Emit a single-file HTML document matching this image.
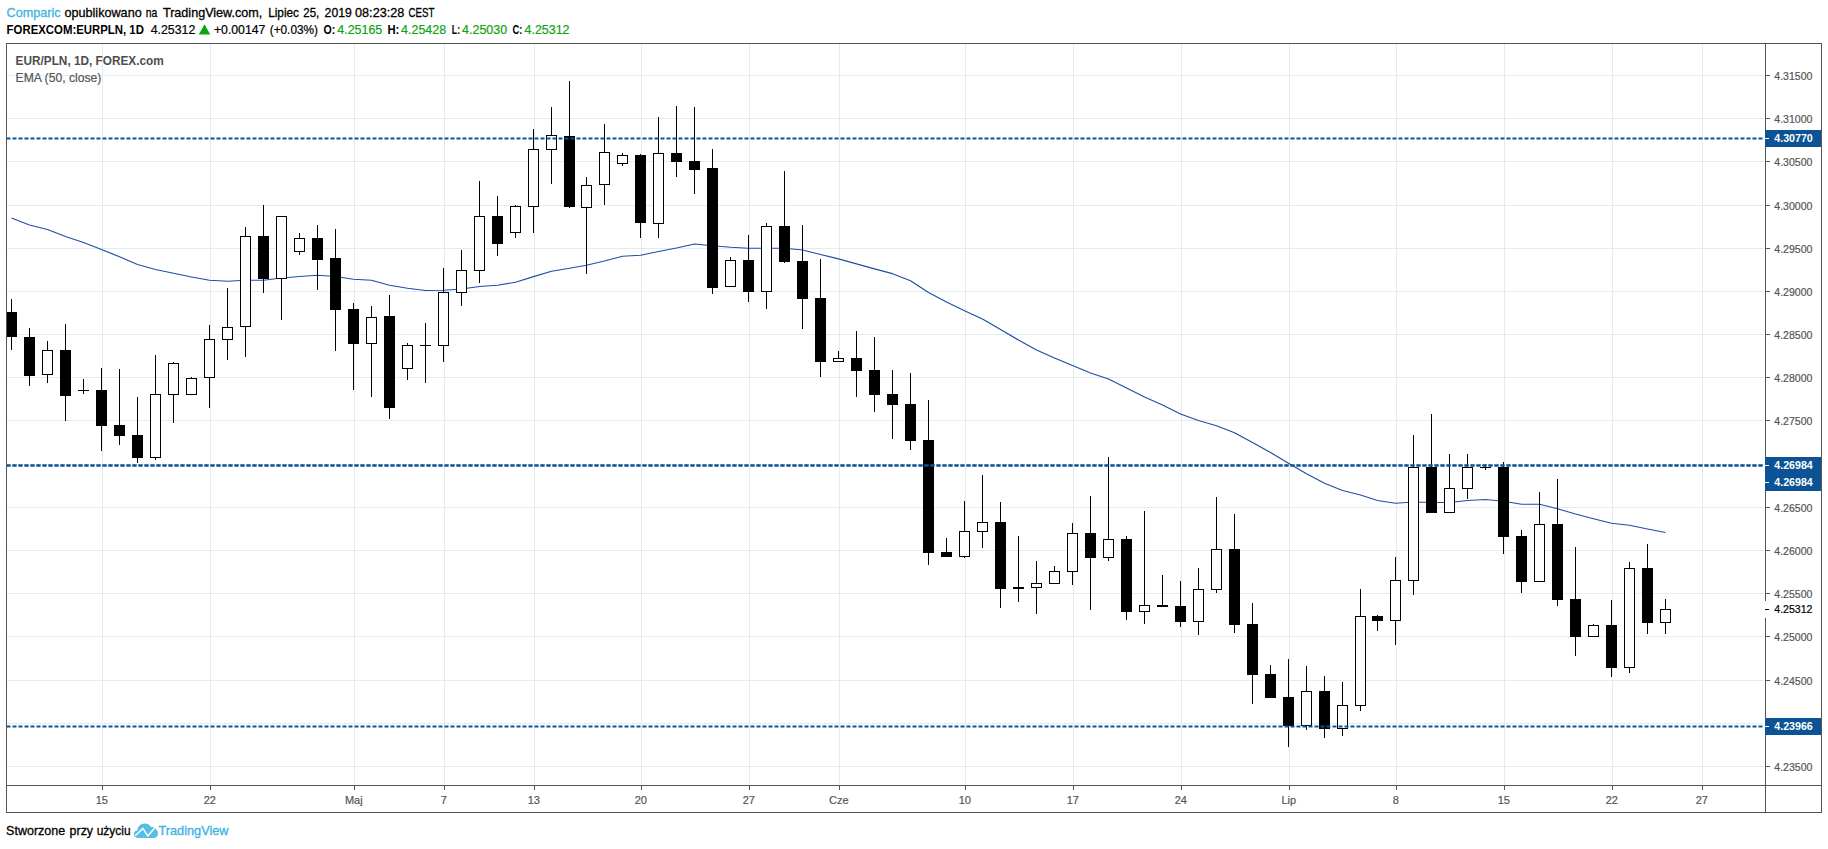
<!DOCTYPE html>
<html lang="pl"><head><meta charset="utf-8"><title>EUR/PLN, 1D, FOREX.com</title>
<style>html,body{margin:0;padding:0;background:#fff;width:1828px;height:849px;overflow:hidden}
svg text{white-space:pre}</style></head>
<body>
<svg width="1828" height="849" viewBox="0 0 1828 849" style="position:absolute;left:0;top:0">
<rect x="0" y="0" width="1828" height="849" fill="#ffffff"/>
<g shape-rendering="crispEdges" fill="#e1ecf2">
<rect x="7" y="75" width="1757" height="1"/>
<rect x="7" y="118" width="1757" height="1"/>
<rect x="7" y="161" width="1757" height="1"/>
<rect x="7" y="205" width="1757" height="1"/>
<rect x="7" y="248" width="1757" height="1"/>
<rect x="7" y="291" width="1757" height="1"/>
<rect x="7" y="334" width="1757" height="1"/>
<rect x="7" y="377" width="1757" height="1"/>
<rect x="7" y="420" width="1757" height="1"/>
<rect x="7" y="464" width="1757" height="1"/>
<rect x="7" y="507" width="1757" height="1"/>
<rect x="7" y="550" width="1757" height="1"/>
<rect x="7" y="593" width="1757" height="1"/>
<rect x="7" y="636" width="1757" height="1"/>
<rect x="7" y="680" width="1757" height="1"/>
<rect x="7" y="723" width="1757" height="1"/>
<rect x="7" y="766" width="1757" height="1"/>
<rect x="102" y="44" width="1" height="741"/>
<rect x="210" y="44" width="1" height="741"/>
<rect x="354" y="44" width="1" height="741"/>
<rect x="444" y="44" width="1" height="741"/>
<rect x="534" y="44" width="1" height="741"/>
<rect x="641" y="44" width="1" height="741"/>
<rect x="749" y="44" width="1" height="741"/>
<rect x="839" y="44" width="1" height="741"/>
<rect x="965" y="44" width="1" height="741"/>
<rect x="1073" y="44" width="1" height="741"/>
<rect x="1181" y="44" width="1" height="741"/>
<rect x="1289" y="44" width="1" height="741"/>
<rect x="1396" y="44" width="1" height="741"/>
<rect x="1504" y="44" width="1" height="741"/>
<rect x="1612" y="44" width="1" height="741"/>
<rect x="1702" y="44" width="1" height="741"/>
</g>
<polyline points="11.5,218.00 29.5,225.00 47.5,229.50 65.5,236.50 83.5,242.50 101.5,249.50 119.5,256.75 137.5,264.50 155.5,269.50 173.5,273.25 191.5,277.00 209.5,280.25 227.5,281.25 245.5,280.25 263.5,280.25 281.5,278.00 299.5,276.50 317.5,275.25 335.5,276.50 353.5,279.25 371.5,280.25 389.5,285.25 407.5,288.25 425.5,290.50 443.5,290.25 461.5,289.00 479.5,286.50 497.5,285.25 515.5,282.25 533.5,276.60 551.5,271.25 569.5,268.25 586.5,265.25 604.5,261.00 622.5,256.25 640.5,255.25 658.5,251.50 676.5,248.00 694.5,244.00 712.5,245.75 730.5,247.25 748.5,248.25 766.5,248.25 784.5,248.25 802.5,250.00 820.5,254.50 838.5,258.90 856.5,263.90 874.5,268.80 892.5,273.70 910.5,280.80 928.5,292.50 946.5,302.00 964.5,310.80 982.5,319.00 1000.5,329.50 1018.5,340.00 1036.5,350.00 1054.5,358.00 1072.5,365.50 1090.5,373.00 1108.5,379.00 1126.5,388.00 1144.5,397.00 1162.5,405.00 1180.5,414.00 1198.5,420.50 1216.5,425.75 1234.5,432.75 1252.5,442.50 1270.5,452.50 1288.5,463.25 1306.5,473.75 1324.5,483.25 1342.5,490.50 1360.5,495.00 1377.5,500.50 1395.5,503.25 1413.5,502.00 1431.5,502.50 1449.5,502.50 1467.5,500.50 1485.5,499.50 1503.5,501.25 1521.5,504.25 1539.5,504.25 1557.5,508.75 1575.5,514.00 1593.5,518.75 1611.5,523.25 1629.5,525.25 1647.5,529.00 1665.5,532.50" fill="none" stroke="#1f4fa3" stroke-width="1.2" stroke-linejoin="round"/>
<g shape-rendering="crispEdges">
<rect x="11" y="299" width="1" height="51" fill="#000"/>
<rect x="7" y="312" width="10" height="25" fill="#000"/>
<rect x="29" y="328" width="1" height="58" fill="#000"/>
<rect x="24" y="337" width="11" height="39" fill="#000"/>
<rect x="47" y="341" width="1" height="42" fill="#000"/>
<rect x="42" y="350" width="11" height="25" fill="#000"/>
<rect x="43" y="351" width="9" height="23" fill="#fff"/>
<rect x="65" y="324" width="1" height="97" fill="#000"/>
<rect x="60" y="350" width="11" height="46" fill="#000"/>
<rect x="83" y="379" width="1" height="15" fill="#000"/>
<rect x="78" y="390" width="11" height="1" fill="#000"/>
<rect x="101" y="368" width="1" height="83" fill="#000"/>
<rect x="96" y="390" width="11" height="36" fill="#000"/>
<rect x="119" y="369" width="1" height="76" fill="#000"/>
<rect x="114" y="425" width="11" height="11" fill="#000"/>
<rect x="137" y="397" width="1" height="66" fill="#000"/>
<rect x="132" y="435" width="11" height="23" fill="#000"/>
<rect x="155" y="355" width="1" height="105" fill="#000"/>
<rect x="150" y="394" width="11" height="64" fill="#000"/>
<rect x="151" y="395" width="9" height="62" fill="#fff"/>
<rect x="173" y="362" width="1" height="61" fill="#000"/>
<rect x="168" y="363" width="11" height="32" fill="#000"/>
<rect x="169" y="364" width="9" height="30" fill="#fff"/>
<rect x="191" y="377" width="1" height="18" fill="#000"/>
<rect x="186" y="378" width="11" height="17" fill="#000"/>
<rect x="187" y="379" width="9" height="15" fill="#fff"/>
<rect x="209" y="325" width="1" height="83" fill="#000"/>
<rect x="204" y="339" width="11" height="39" fill="#000"/>
<rect x="205" y="340" width="9" height="37" fill="#fff"/>
<rect x="227" y="288" width="1" height="72" fill="#000"/>
<rect x="222" y="327" width="11" height="13" fill="#000"/>
<rect x="223" y="328" width="9" height="11" fill="#fff"/>
<rect x="245" y="227" width="1" height="130" fill="#000"/>
<rect x="240" y="236" width="11" height="91" fill="#000"/>
<rect x="241" y="237" width="9" height="89" fill="#fff"/>
<rect x="263" y="205" width="1" height="88" fill="#000"/>
<rect x="258" y="236" width="11" height="43" fill="#000"/>
<rect x="281" y="216" width="1" height="104" fill="#000"/>
<rect x="276" y="216" width="11" height="63" fill="#000"/>
<rect x="277" y="217" width="9" height="61" fill="#fff"/>
<rect x="299" y="233" width="1" height="22" fill="#000"/>
<rect x="294" y="238" width="11" height="14" fill="#000"/>
<rect x="295" y="239" width="9" height="12" fill="#fff"/>
<rect x="317" y="225" width="1" height="65" fill="#000"/>
<rect x="312" y="238" width="11" height="22" fill="#000"/>
<rect x="335" y="229" width="1" height="122" fill="#000"/>
<rect x="330" y="258" width="11" height="52" fill="#000"/>
<rect x="353" y="303" width="1" height="87" fill="#000"/>
<rect x="348" y="309" width="11" height="35" fill="#000"/>
<rect x="371" y="306" width="1" height="91" fill="#000"/>
<rect x="366" y="317" width="11" height="27" fill="#000"/>
<rect x="367" y="318" width="9" height="25" fill="#fff"/>
<rect x="389" y="295" width="1" height="124" fill="#000"/>
<rect x="384" y="316" width="11" height="92" fill="#000"/>
<rect x="407" y="343" width="1" height="37" fill="#000"/>
<rect x="402" y="345" width="11" height="24" fill="#000"/>
<rect x="403" y="346" width="9" height="22" fill="#fff"/>
<rect x="425" y="323" width="1" height="60" fill="#000"/>
<rect x="420" y="345" width="11" height="1" fill="#000"/>
<rect x="443" y="268" width="1" height="94" fill="#000"/>
<rect x="438" y="292" width="11" height="54" fill="#000"/>
<rect x="439" y="293" width="9" height="52" fill="#fff"/>
<rect x="461" y="250" width="1" height="56" fill="#000"/>
<rect x="456" y="270" width="11" height="23" fill="#000"/>
<rect x="457" y="271" width="9" height="21" fill="#fff"/>
<rect x="479" y="181" width="1" height="102" fill="#000"/>
<rect x="474" y="216" width="11" height="55" fill="#000"/>
<rect x="475" y="217" width="9" height="53" fill="#fff"/>
<rect x="497" y="196" width="1" height="60" fill="#000"/>
<rect x="492" y="216" width="11" height="28" fill="#000"/>
<rect x="515" y="205" width="1" height="33" fill="#000"/>
<rect x="510" y="206" width="11" height="27" fill="#000"/>
<rect x="511" y="207" width="9" height="25" fill="#fff"/>
<rect x="533" y="129" width="1" height="104" fill="#000"/>
<rect x="528" y="149" width="11" height="58" fill="#000"/>
<rect x="529" y="150" width="9" height="56" fill="#fff"/>
<rect x="551" y="107" width="1" height="77" fill="#000"/>
<rect x="546" y="135" width="11" height="15" fill="#000"/>
<rect x="547" y="136" width="9" height="13" fill="#fff"/>
<rect x="569" y="81" width="1" height="127" fill="#000"/>
<rect x="564" y="136" width="11" height="71" fill="#000"/>
<rect x="586" y="177" width="1" height="97" fill="#000"/>
<rect x="581" y="185" width="11" height="23" fill="#000"/>
<rect x="582" y="186" width="9" height="21" fill="#fff"/>
<rect x="604" y="124" width="1" height="81" fill="#000"/>
<rect x="599" y="152" width="11" height="33" fill="#000"/>
<rect x="600" y="153" width="9" height="31" fill="#fff"/>
<rect x="622" y="153" width="1" height="13" fill="#000"/>
<rect x="617" y="155" width="11" height="9" fill="#000"/>
<rect x="618" y="156" width="9" height="7" fill="#fff"/>
<rect x="640" y="154" width="1" height="84" fill="#000"/>
<rect x="635" y="155" width="11" height="68" fill="#000"/>
<rect x="658" y="117" width="1" height="121" fill="#000"/>
<rect x="653" y="153" width="11" height="71" fill="#000"/>
<rect x="654" y="154" width="9" height="69" fill="#fff"/>
<rect x="676" y="106" width="1" height="71" fill="#000"/>
<rect x="671" y="153" width="11" height="9" fill="#000"/>
<rect x="694" y="107" width="1" height="87" fill="#000"/>
<rect x="689" y="161" width="11" height="9" fill="#000"/>
<rect x="712" y="149" width="1" height="145" fill="#000"/>
<rect x="707" y="168" width="11" height="120" fill="#000"/>
<rect x="730" y="257" width="1" height="30" fill="#000"/>
<rect x="725" y="260" width="11" height="27" fill="#000"/>
<rect x="726" y="261" width="9" height="25" fill="#fff"/>
<rect x="748" y="235" width="1" height="67" fill="#000"/>
<rect x="743" y="260" width="11" height="32" fill="#000"/>
<rect x="766" y="223" width="1" height="86" fill="#000"/>
<rect x="761" y="226" width="11" height="66" fill="#000"/>
<rect x="762" y="227" width="9" height="64" fill="#fff"/>
<rect x="784" y="171" width="1" height="92" fill="#000"/>
<rect x="779" y="226" width="11" height="36" fill="#000"/>
<rect x="802" y="225" width="1" height="104" fill="#000"/>
<rect x="797" y="261" width="11" height="38" fill="#000"/>
<rect x="820" y="259" width="1" height="118" fill="#000"/>
<rect x="815" y="298" width="11" height="64" fill="#000"/>
<rect x="838" y="351" width="1" height="11" fill="#000"/>
<rect x="833" y="358" width="11" height="4" fill="#000"/>
<rect x="834" y="359" width="9" height="2" fill="#fff"/>
<rect x="856" y="331" width="1" height="66" fill="#000"/>
<rect x="851" y="358" width="11" height="13" fill="#000"/>
<rect x="874" y="337" width="1" height="75" fill="#000"/>
<rect x="869" y="370" width="11" height="25" fill="#000"/>
<rect x="892" y="370" width="1" height="69" fill="#000"/>
<rect x="887" y="394" width="11" height="11" fill="#000"/>
<rect x="910" y="373" width="1" height="77" fill="#000"/>
<rect x="905" y="404" width="11" height="37" fill="#000"/>
<rect x="928" y="400" width="1" height="165" fill="#000"/>
<rect x="923" y="440" width="11" height="113" fill="#000"/>
<rect x="946" y="538" width="1" height="19" fill="#000"/>
<rect x="941" y="552" width="11" height="5" fill="#000"/>
<rect x="964" y="501" width="1" height="57" fill="#000"/>
<rect x="959" y="531" width="11" height="26" fill="#000"/>
<rect x="960" y="532" width="9" height="24" fill="#fff"/>
<rect x="982" y="475" width="1" height="73" fill="#000"/>
<rect x="977" y="522" width="11" height="10" fill="#000"/>
<rect x="978" y="523" width="9" height="8" fill="#fff"/>
<rect x="1000" y="502" width="1" height="106" fill="#000"/>
<rect x="995" y="522" width="11" height="67" fill="#000"/>
<rect x="1018" y="536" width="1" height="66" fill="#000"/>
<rect x="1013" y="587" width="11" height="2" fill="#000"/>
<rect x="1036" y="561" width="1" height="53" fill="#000"/>
<rect x="1031" y="583" width="11" height="5" fill="#000"/>
<rect x="1032" y="584" width="9" height="3" fill="#fff"/>
<rect x="1054" y="566" width="1" height="18" fill="#000"/>
<rect x="1049" y="571" width="11" height="13" fill="#000"/>
<rect x="1050" y="572" width="9" height="11" fill="#fff"/>
<rect x="1072" y="523" width="1" height="62" fill="#000"/>
<rect x="1067" y="533" width="11" height="39" fill="#000"/>
<rect x="1068" y="534" width="9" height="37" fill="#fff"/>
<rect x="1090" y="496" width="1" height="114" fill="#000"/>
<rect x="1085" y="533" width="11" height="25" fill="#000"/>
<rect x="1108" y="457" width="1" height="104" fill="#000"/>
<rect x="1103" y="539" width="11" height="19" fill="#000"/>
<rect x="1104" y="540" width="9" height="17" fill="#fff"/>
<rect x="1126" y="536" width="1" height="84" fill="#000"/>
<rect x="1121" y="539" width="11" height="73" fill="#000"/>
<rect x="1144" y="511" width="1" height="113" fill="#000"/>
<rect x="1139" y="605" width="11" height="7" fill="#000"/>
<rect x="1140" y="606" width="9" height="5" fill="#fff"/>
<rect x="1162" y="575" width="1" height="32" fill="#000"/>
<rect x="1157" y="605" width="11" height="2" fill="#000"/>
<rect x="1180" y="581" width="1" height="46" fill="#000"/>
<rect x="1175" y="606" width="11" height="16" fill="#000"/>
<rect x="1198" y="568" width="1" height="67" fill="#000"/>
<rect x="1193" y="589" width="11" height="33" fill="#000"/>
<rect x="1194" y="590" width="9" height="31" fill="#fff"/>
<rect x="1216" y="497" width="1" height="96" fill="#000"/>
<rect x="1211" y="549" width="11" height="41" fill="#000"/>
<rect x="1212" y="550" width="9" height="39" fill="#fff"/>
<rect x="1234" y="514" width="1" height="119" fill="#000"/>
<rect x="1229" y="549" width="11" height="76" fill="#000"/>
<rect x="1252" y="603" width="1" height="101" fill="#000"/>
<rect x="1247" y="624" width="11" height="51" fill="#000"/>
<rect x="1270" y="665" width="1" height="33" fill="#000"/>
<rect x="1265" y="674" width="11" height="24" fill="#000"/>
<rect x="1288" y="659" width="1" height="88" fill="#000"/>
<rect x="1283" y="697" width="11" height="29" fill="#000"/>
<rect x="1306" y="666" width="1" height="64" fill="#000"/>
<rect x="1301" y="691" width="11" height="35" fill="#000"/>
<rect x="1302" y="692" width="9" height="33" fill="#fff"/>
<rect x="1324" y="676" width="1" height="62" fill="#000"/>
<rect x="1319" y="691" width="11" height="38" fill="#000"/>
<rect x="1342" y="682" width="1" height="54" fill="#000"/>
<rect x="1337" y="705" width="11" height="24" fill="#000"/>
<rect x="1338" y="706" width="9" height="22" fill="#fff"/>
<rect x="1360" y="589" width="1" height="122" fill="#000"/>
<rect x="1355" y="616" width="11" height="90" fill="#000"/>
<rect x="1356" y="617" width="9" height="88" fill="#fff"/>
<rect x="1377" y="615" width="1" height="16" fill="#000"/>
<rect x="1372" y="616" width="11" height="5" fill="#000"/>
<rect x="1395" y="557" width="1" height="88" fill="#000"/>
<rect x="1390" y="580" width="11" height="41" fill="#000"/>
<rect x="1391" y="581" width="9" height="39" fill="#fff"/>
<rect x="1413" y="435" width="1" height="160" fill="#000"/>
<rect x="1408" y="467" width="11" height="114" fill="#000"/>
<rect x="1409" y="468" width="9" height="112" fill="#fff"/>
<rect x="1431" y="414" width="1" height="99" fill="#000"/>
<rect x="1426" y="467" width="11" height="46" fill="#000"/>
<rect x="1449" y="454" width="1" height="59" fill="#000"/>
<rect x="1444" y="488" width="11" height="25" fill="#000"/>
<rect x="1445" y="489" width="9" height="23" fill="#fff"/>
<rect x="1467" y="454" width="1" height="45" fill="#000"/>
<rect x="1462" y="467" width="11" height="22" fill="#000"/>
<rect x="1463" y="468" width="9" height="20" fill="#fff"/>
<rect x="1485" y="464" width="1" height="6" fill="#000"/>
<rect x="1480" y="467" width="11" height="1" fill="#000"/>
<rect x="1503" y="462" width="1" height="92" fill="#000"/>
<rect x="1498" y="467" width="11" height="70" fill="#000"/>
<rect x="1521" y="530" width="1" height="63" fill="#000"/>
<rect x="1516" y="536" width="11" height="46" fill="#000"/>
<rect x="1539" y="492" width="1" height="90" fill="#000"/>
<rect x="1534" y="524" width="11" height="58" fill="#000"/>
<rect x="1535" y="525" width="9" height="56" fill="#fff"/>
<rect x="1557" y="479" width="1" height="127" fill="#000"/>
<rect x="1552" y="524" width="11" height="76" fill="#000"/>
<rect x="1575" y="547" width="1" height="109" fill="#000"/>
<rect x="1570" y="599" width="11" height="38" fill="#000"/>
<rect x="1593" y="624" width="1" height="13" fill="#000"/>
<rect x="1588" y="625" width="11" height="12" fill="#000"/>
<rect x="1589" y="626" width="9" height="10" fill="#fff"/>
<rect x="1611" y="600" width="1" height="77" fill="#000"/>
<rect x="1606" y="625" width="11" height="43" fill="#000"/>
<rect x="1629" y="562" width="1" height="111" fill="#000"/>
<rect x="1624" y="568" width="11" height="100" fill="#000"/>
<rect x="1625" y="569" width="9" height="98" fill="#fff"/>
<rect x="1647" y="544" width="1" height="90" fill="#000"/>
<rect x="1642" y="568" width="11" height="55" fill="#000"/>
<rect x="1665" y="599" width="1" height="35" fill="#000"/>
<rect x="1660" y="609" width="11" height="14" fill="#000"/>
<rect x="1661" y="610" width="9" height="12" fill="#fff"/>
</g>
<line x1="6.5" y1="138.50" x2="1763" y2="138.50" stroke="#0b5394" stroke-width="2.2" stroke-dasharray="4 2"/>
<line x1="6.5" y1="465.50" x2="1763" y2="465.50" stroke="#0b5394" stroke-width="2.2" stroke-dasharray="4 2"/>
<line x1="6.5" y1="465.50" x2="1763" y2="465.50" stroke="#0b5394" stroke-width="2.2" stroke-dasharray="4 2"/>
<line x1="6.5" y1="726.50" x2="1763" y2="726.50" stroke="#0b5394" stroke-width="2.2" stroke-dasharray="4 2"/>
<g shape-rendering="crispEdges" fill="#555555">
<rect x="6" y="43" width="1816" height="1"/>
<rect x="6" y="812" width="1816" height="1"/>
<rect x="6" y="43" width="1" height="770"/>
<rect x="1821" y="43" width="1" height="770"/>
<rect x="1765" y="43" width="1" height="770"/>
<rect x="6" y="785" width="1816" height="1"/>
<rect x="1766" y="75" width="4" height="1"/>
<rect x="1766" y="118" width="4" height="1"/>
<rect x="1766" y="161" width="4" height="1"/>
<rect x="1766" y="205" width="4" height="1"/>
<rect x="1766" y="248" width="4" height="1"/>
<rect x="1766" y="291" width="4" height="1"/>
<rect x="1766" y="334" width="4" height="1"/>
<rect x="1766" y="377" width="4" height="1"/>
<rect x="1766" y="420" width="4" height="1"/>
<rect x="1766" y="464" width="4" height="1"/>
<rect x="1766" y="507" width="4" height="1"/>
<rect x="1766" y="550" width="4" height="1"/>
<rect x="1766" y="593" width="4" height="1"/>
<rect x="1766" y="636" width="4" height="1"/>
<rect x="1766" y="680" width="4" height="1"/>
<rect x="1766" y="723" width="4" height="1"/>
<rect x="1766" y="766" width="4" height="1"/>
<rect x="102" y="786" width="1" height="4"/>
<rect x="210" y="786" width="1" height="4"/>
<rect x="354" y="786" width="1" height="4"/>
<rect x="444" y="786" width="1" height="4"/>
<rect x="534" y="786" width="1" height="4"/>
<rect x="641" y="786" width="1" height="4"/>
<rect x="749" y="786" width="1" height="4"/>
<rect x="839" y="786" width="1" height="4"/>
<rect x="965" y="786" width="1" height="4"/>
<rect x="1073" y="786" width="1" height="4"/>
<rect x="1181" y="786" width="1" height="4"/>
<rect x="1289" y="786" width="1" height="4"/>
<rect x="1396" y="786" width="1" height="4"/>
<rect x="1504" y="786" width="1" height="4"/>
<rect x="1612" y="786" width="1" height="4"/>
<rect x="1702" y="786" width="1" height="4"/>
</g>
<text transform="translate(1774.30,79.6) scale(0.9610,1)" font-family="'Liberation Sans', Arial, sans-serif" font-size="11" fill="#555555" stroke="#555555" stroke-width="0.2">4.31500</text>
<text transform="translate(1774.30,122.6) scale(0.9610,1)" font-family="'Liberation Sans', Arial, sans-serif" font-size="11" fill="#555555" stroke="#555555" stroke-width="0.2">4.31000</text>
<text transform="translate(1774.30,165.6) scale(0.9610,1)" font-family="'Liberation Sans', Arial, sans-serif" font-size="11" fill="#555555" stroke="#555555" stroke-width="0.2">4.30500</text>
<text transform="translate(1774.30,209.6) scale(0.9610,1)" font-family="'Liberation Sans', Arial, sans-serif" font-size="11" fill="#555555" stroke="#555555" stroke-width="0.2">4.30000</text>
<text transform="translate(1774.30,252.6) scale(0.9610,1)" font-family="'Liberation Sans', Arial, sans-serif" font-size="11" fill="#555555" stroke="#555555" stroke-width="0.2">4.29500</text>
<text transform="translate(1774.30,295.6) scale(0.9610,1)" font-family="'Liberation Sans', Arial, sans-serif" font-size="11" fill="#555555" stroke="#555555" stroke-width="0.2">4.29000</text>
<text transform="translate(1774.30,338.6) scale(0.9610,1)" font-family="'Liberation Sans', Arial, sans-serif" font-size="11" fill="#555555" stroke="#555555" stroke-width="0.2">4.28500</text>
<text transform="translate(1774.30,381.6) scale(0.9610,1)" font-family="'Liberation Sans', Arial, sans-serif" font-size="11" fill="#555555" stroke="#555555" stroke-width="0.2">4.28000</text>
<text transform="translate(1774.30,424.6) scale(0.9610,1)" font-family="'Liberation Sans', Arial, sans-serif" font-size="11" fill="#555555" stroke="#555555" stroke-width="0.2">4.27500</text>
<text transform="translate(1774.30,511.6) scale(0.9610,1)" font-family="'Liberation Sans', Arial, sans-serif" font-size="11" fill="#555555" stroke="#555555" stroke-width="0.2">4.26500</text>
<text transform="translate(1774.30,554.6) scale(0.9610,1)" font-family="'Liberation Sans', Arial, sans-serif" font-size="11" fill="#555555" stroke="#555555" stroke-width="0.2">4.26000</text>
<text transform="translate(1774.30,597.6) scale(0.9610,1)" font-family="'Liberation Sans', Arial, sans-serif" font-size="11" fill="#555555" stroke="#555555" stroke-width="0.2">4.25500</text>
<text transform="translate(1774.30,640.6) scale(0.9610,1)" font-family="'Liberation Sans', Arial, sans-serif" font-size="11" fill="#555555" stroke="#555555" stroke-width="0.2">4.25000</text>
<text transform="translate(1774.30,684.6) scale(0.9610,1)" font-family="'Liberation Sans', Arial, sans-serif" font-size="11" fill="#555555" stroke="#555555" stroke-width="0.2">4.24500</text>
<text transform="translate(1774.30,770.6) scale(0.9610,1)" font-family="'Liberation Sans', Arial, sans-serif" font-size="11" fill="#555555" stroke="#555555" stroke-width="0.2">4.23500</text>
<rect x="1765" y="601" width="56" height="17" fill="#fff" shape-rendering="crispEdges"/>
<rect x="1765" y="609" width="4" height="1" fill="#000" shape-rendering="crispEdges"/>
<text transform="translate(1774.30,613.1) scale(0.9610,1)" font-family="'Liberation Sans', Arial, sans-serif" font-size="11" fill="#000" stroke="#000" stroke-width="0.2">4.25312</text>
<rect x="1765" y="130" width="56" height="17" fill="#0b5394" shape-rendering="crispEdges"/>
<rect x="1765" y="138" width="4" height="1" fill="#fff" shape-rendering="crispEdges"/>
<text transform="translate(1774.30,142.1) scale(0.9686,1)" font-family="'Liberation Sans', Arial, sans-serif" font-size="11" fill="#fff" font-weight="bold">4.30770</text>
<rect x="1765" y="457" width="56" height="17" fill="#0b5394" shape-rendering="crispEdges"/>
<rect x="1765" y="465" width="4" height="1" fill="#fff" shape-rendering="crispEdges"/>
<text transform="translate(1774.30,469.1) scale(0.9686,1)" font-family="'Liberation Sans', Arial, sans-serif" font-size="11" fill="#fff" font-weight="bold">4.26984</text>
<rect x="1765" y="474" width="56" height="17" fill="#0b5394" shape-rendering="crispEdges"/>
<rect x="1765" y="482" width="4" height="1" fill="#fff" shape-rendering="crispEdges"/>
<text transform="translate(1774.30,486.1) scale(0.9686,1)" font-family="'Liberation Sans', Arial, sans-serif" font-size="11" fill="#fff" font-weight="bold">4.26984</text>
<rect x="1765" y="718" width="56" height="17" fill="#0b5394" shape-rendering="crispEdges"/>
<rect x="1765" y="726" width="4" height="1" fill="#fff" shape-rendering="crispEdges"/>
<text transform="translate(1774.30,730.1) scale(0.9686,1)" font-family="'Liberation Sans', Arial, sans-serif" font-size="11" fill="#fff" font-weight="bold">4.23966</text>
<text x="101.8" y="804" font-family="'Liberation Sans', Arial, sans-serif" font-size="11" fill="#555555" text-anchor="middle" stroke="#555555" stroke-width="0.2">15</text>
<text x="209.8" y="804" font-family="'Liberation Sans', Arial, sans-serif" font-size="11" fill="#555555" text-anchor="middle" stroke="#555555" stroke-width="0.2">22</text>
<text x="353.8" y="804" font-family="'Liberation Sans', Arial, sans-serif" font-size="11" fill="#555555" text-anchor="middle" stroke="#555555" stroke-width="0.2">Maj</text>
<text x="443.8" y="804" font-family="'Liberation Sans', Arial, sans-serif" font-size="11" fill="#555555" text-anchor="middle" stroke="#555555" stroke-width="0.2">7</text>
<text x="533.8" y="804" font-family="'Liberation Sans', Arial, sans-serif" font-size="11" fill="#555555" text-anchor="middle" stroke="#555555" stroke-width="0.2">13</text>
<text x="640.8" y="804" font-family="'Liberation Sans', Arial, sans-serif" font-size="11" fill="#555555" text-anchor="middle" stroke="#555555" stroke-width="0.2">20</text>
<text x="748.8" y="804" font-family="'Liberation Sans', Arial, sans-serif" font-size="11" fill="#555555" text-anchor="middle" stroke="#555555" stroke-width="0.2">27</text>
<text x="838.8" y="804" font-family="'Liberation Sans', Arial, sans-serif" font-size="11" fill="#555555" text-anchor="middle" stroke="#555555" stroke-width="0.2">Cze</text>
<text x="964.8" y="804" font-family="'Liberation Sans', Arial, sans-serif" font-size="11" fill="#555555" text-anchor="middle" stroke="#555555" stroke-width="0.2">10</text>
<text x="1072.8" y="804" font-family="'Liberation Sans', Arial, sans-serif" font-size="11" fill="#555555" text-anchor="middle" stroke="#555555" stroke-width="0.2">17</text>
<text x="1180.8" y="804" font-family="'Liberation Sans', Arial, sans-serif" font-size="11" fill="#555555" text-anchor="middle" stroke="#555555" stroke-width="0.2">24</text>
<text x="1288.8" y="804" font-family="'Liberation Sans', Arial, sans-serif" font-size="11" fill="#555555" text-anchor="middle" stroke="#555555" stroke-width="0.2">Lip</text>
<text x="1395.8" y="804" font-family="'Liberation Sans', Arial, sans-serif" font-size="11" fill="#555555" text-anchor="middle" stroke="#555555" stroke-width="0.2">8</text>
<text x="1503.8" y="804" font-family="'Liberation Sans', Arial, sans-serif" font-size="11" fill="#555555" text-anchor="middle" stroke="#555555" stroke-width="0.2">15</text>
<text x="1611.8" y="804" font-family="'Liberation Sans', Arial, sans-serif" font-size="11" fill="#555555" text-anchor="middle" stroke="#555555" stroke-width="0.2">22</text>
<text x="1701.8" y="804" font-family="'Liberation Sans', Arial, sans-serif" font-size="11" fill="#555555" text-anchor="middle" stroke="#555555" stroke-width="0.2">27</text>
<text transform="translate(15.60,64.7) scale(0.9844,1)" font-family="'Liberation Sans', Arial, sans-serif" font-size="12" fill="#4d4d4d" font-weight="bold">EUR/PLN, 1D, FOREX.com</text>
<text transform="translate(15.60,81.9) scale(1.0124,1)" font-family="'Liberation Sans', Arial, sans-serif" font-size="12" fill="#555555" stroke="#555555" stroke-width="0.2">EMA (50, close)</text>
<text transform="translate(6.60,16.8) scale(0.9726,1)" font-family="'Liberation Sans', Arial, sans-serif" font-size="13" fill="#3bb3e4" stroke="#3bb3e4" stroke-width="0.3">Comparic</text>
<text transform="translate(64.40,16.8) scale(0.9736,1)" font-family="'Liberation Sans', Arial, sans-serif" font-size="13" fill="#000" stroke="#000" stroke-width="0.3">opublikowano</text>
<text transform="translate(145.70,16.8) scale(0.8000,1)" font-family="'Liberation Sans', Arial, sans-serif" font-size="13" fill="#000" stroke="#000" stroke-width="0.3">na</text>
<text transform="translate(162.90,16.8) scale(0.9695,1)" font-family="'Liberation Sans', Arial, sans-serif" font-size="13" fill="#000" stroke="#000" stroke-width="0.3">TradingView.com,</text>
<text transform="translate(268.20,16.8) scale(0.9059,1)" font-family="'Liberation Sans', Arial, sans-serif" font-size="13" fill="#000" stroke="#000" stroke-width="0.3">Lipiec</text>
<text transform="translate(303.30,16.8) scale(0.8828,1)" font-family="'Liberation Sans', Arial, sans-serif" font-size="13" fill="#000" stroke="#000" stroke-width="0.3">25,</text>
<text transform="translate(324.60,16.8) scale(0.9385,1)" font-family="'Liberation Sans', Arial, sans-serif" font-size="13" fill="#000" stroke="#000" stroke-width="0.3">2019</text>
<text transform="translate(355.00,16.8) scale(0.9778,1)" font-family="'Liberation Sans', Arial, sans-serif" font-size="13" fill="#000" stroke="#000" stroke-width="0.3">08:23:28</text>
<text transform="translate(408.60,16.8) scale(0.7451,1)" font-family="'Liberation Sans', Arial, sans-serif" font-size="13" fill="#000" stroke="#000" stroke-width="0.3">CEST</text>
<text transform="translate(6.60,33.6) scale(0.9500,1)" font-family="'Liberation Sans', Arial, sans-serif" font-size="12" fill="#000" font-weight="bold">FOREXCOM:EURPLN, 1D</text>
<text transform="translate(150.70,33.6) scale(1.0305,1)" font-family="'Liberation Sans', Arial, sans-serif" font-size="12" fill="#000" stroke="#000" stroke-width="0.2">4.25312</text>
<polygon points="198.8,34.6 204.5,24.2 210.2,34.6" fill="#0fa30f"/>
<text transform="translate(213.90,33.6) scale(1.0243,1)" font-family="'Liberation Sans', Arial, sans-serif" font-size="12" fill="#000" stroke="#000" stroke-width="0.2">+0.00147</text>
<text transform="translate(269.70,33.6) scale(0.9857,1)" font-family="'Liberation Sans', Arial, sans-serif" font-size="12" fill="#000" stroke="#000" stroke-width="0.2">(+0.03%)</text>
<text transform="translate(323.50,33.6) scale(0.8822,1)" font-family="'Liberation Sans', Arial, sans-serif" font-size="12" fill="#000" font-weight="bold">O:</text>
<text transform="translate(387.50,33.6) scale(0.9347,1)" font-family="'Liberation Sans', Arial, sans-serif" font-size="12" fill="#000" font-weight="bold">H:</text>
<text transform="translate(451.80,33.6) scale(0.7297,1)" font-family="'Liberation Sans', Arial, sans-serif" font-size="12" fill="#000" font-weight="bold">L:</text>
<text transform="translate(512.50,33.6) scale(0.7842,1)" font-family="'Liberation Sans', Arial, sans-serif" font-size="12" fill="#000" font-weight="bold">C:</text>
<text transform="translate(337.30,33.6) scale(1.0375,1)" font-family="'Liberation Sans', Arial, sans-serif" font-size="12" fill="#0fa30f" stroke="#0fa30f" stroke-width="0.2">4.25165</text>
<text transform="translate(401.10,33.6) scale(1.0375,1)" font-family="'Liberation Sans', Arial, sans-serif" font-size="12" fill="#0fa30f" stroke="#0fa30f" stroke-width="0.2">4.25428</text>
<text transform="translate(462.10,33.6) scale(1.0375,1)" font-family="'Liberation Sans', Arial, sans-serif" font-size="12" fill="#0fa30f" stroke="#0fa30f" stroke-width="0.2">4.25030</text>
<text transform="translate(524.50,33.6) scale(1.0375,1)" font-family="'Liberation Sans', Arial, sans-serif" font-size="12" fill="#0fa30f" stroke="#0fa30f" stroke-width="0.2">4.25312</text>
<text transform="translate(6.10,835.2) scale(0.9629,1)" font-family="'Liberation Sans', Arial, sans-serif" font-size="13" fill="#000" stroke="#000" stroke-width="0.3">Stworzone</text>
<text transform="translate(69.60,835.2) scale(0.9551,1)" font-family="'Liberation Sans', Arial, sans-serif" font-size="13" fill="#000" stroke="#000" stroke-width="0.3">przy</text>
<text transform="translate(96.70,835.2) scale(0.9193,1)" font-family="'Liberation Sans', Arial, sans-serif" font-size="13" fill="#000" stroke="#000" stroke-width="0.3">użyciu</text>
<g transform="translate(133.9,823.4)"><path d="M4.2,14.6 C1.6,14.6 0,12.9 0,10.8 C0,8.6 1.6,7.1 3.6,6.9 C3.7,3.2 6.8,0 10.9,0 C13.7,0 16.1,1.5 17.3,3.7 C18.3,3.3 19.4,3.6 20.1,4.4 L20.4,4.9 C22.5,5.6 24.1,7.6 24.1,10 C24.1,12.7 22.1,14.6 19.6,14.6 Z" fill="#55bde6"/><polyline points="1.3,12.3 9,5 13.9,12.6 20.3,5.2" fill="none" stroke="#fff" stroke-width="1.5"/></g>
<text transform="translate(158.50,834.6) scale(1.0616,1)" font-family="'Liberation Sans', Arial, sans-serif" font-size="12" fill="#3bb3e4" stroke="#3bb3e4" stroke-width="0.3">TradingView</text>
</svg>
</body></html>
